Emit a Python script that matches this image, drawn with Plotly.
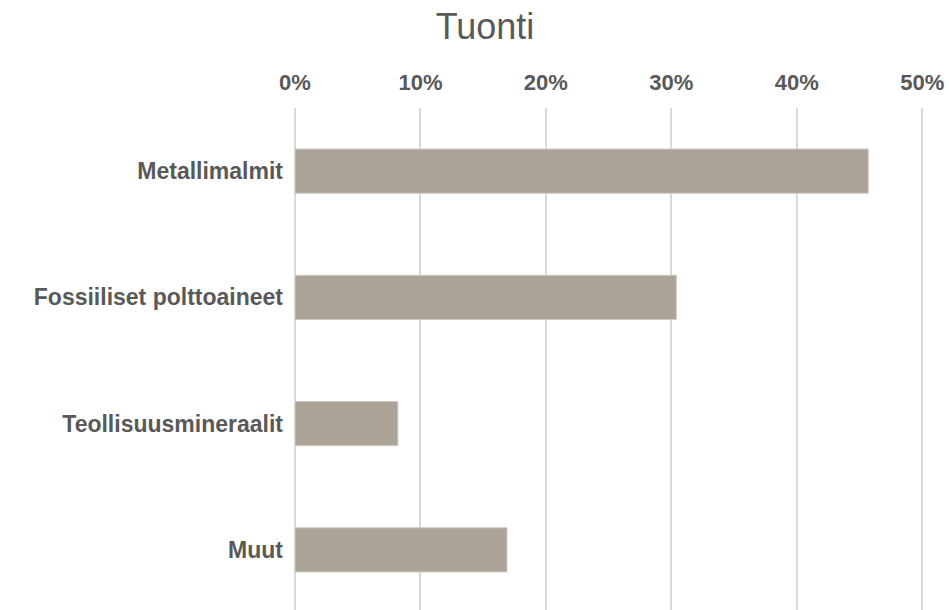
import plotly.graph_objects as go

categories = ["Metallimalmit", "Fossiiliset polttoaineet", "Teollisuusmineraalit", "Muut"]
values = [0.457, 0.304, 0.082, 0.169]
tick_vals = [0, 0.1, 0.2, 0.3, 0.4, 0.5]
tick_text = ["0%", "10%", "20%", "30%", "40%", "50%"]

FONT = "Liberation Sans, Arial, sans-serif"
W, H = 949, 613

fig = go.Figure(go.Bar(
    x=values, y=categories, orientation="h",
    marker=dict(color="#aba396", line=dict(color="#cfcac2", width=1)),
))

fig.update_layout(
    width=W, height=H,
    margin=dict(l=295, r=23, t=108, b=0),
    paper_bgcolor="white", plot_bgcolor="white",
    font=dict(family=FONT, color="#595959"),
    title=dict(text="Tuonti", x=485 / W, xref="container", xanchor="center",
               y=1 - 26 / H, yanchor="middle", yref="container",
               font=dict(size=36, color="#595959", family=FONT)),
    showlegend=False,
    bargap=0.65,
)

fig.update_xaxes(
    side="top", range=[0, 0.503], tickvals=tick_vals, ticktext=tick_text,
    showgrid=True, gridcolor="#d9d9d9", gridwidth=2,
    zeroline=True, zerolinecolor="#d9d9d9", zerolinewidth=2,
    showline=False, ticks="", ticklabelstandoff=13,
    tickfont=dict(size=22, color="#595959", family=FONT, weight="bold"),
)
fig.update_yaxes(
    categoryorder="array", categoryarray=categories[::-1],
    showgrid=False, zeroline=False, showline=False, ticks="",
    ticklabelstandoff=11,
    tickfont=dict(size=23, color="#595959", family=FONT, weight="bold"),
)

fig.write_html("out.html", config={"displayModeBar": False},
               post_script="document.body.style.margin='0';document.body.style.overflow='hidden';")
